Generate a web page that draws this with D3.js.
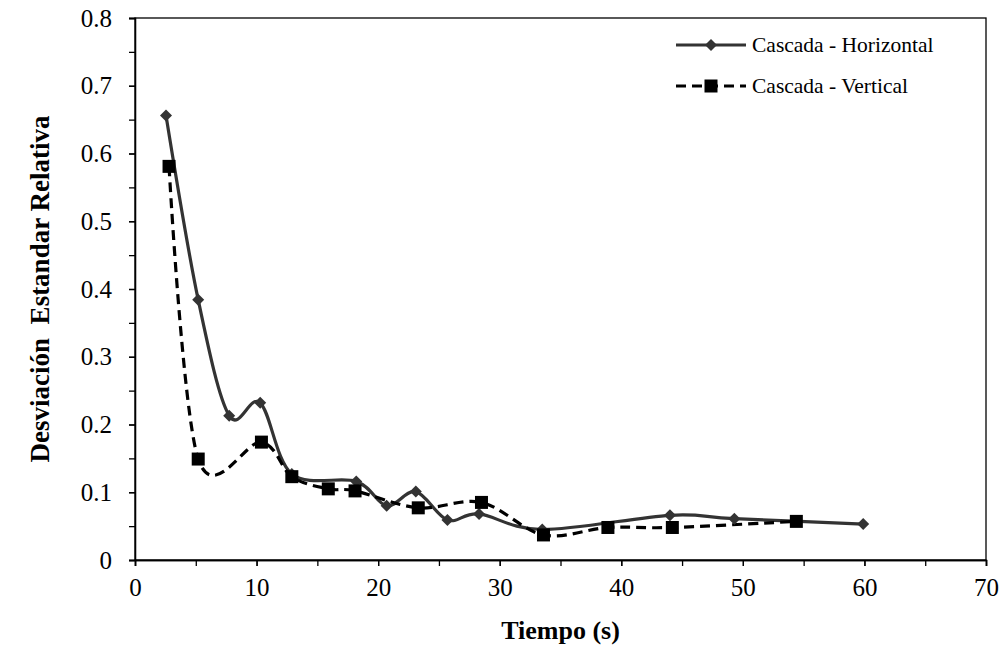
<!DOCTYPE html>
<html>
<head>
<meta charset="utf-8">
<script src="https://cdn.jsdelivr.net/npm/d3@7"></script>
<style>
  body { margin: 0; background: #fff; }
  svg text { font-family: "Liberation Serif", "Times New Roman", Times, serif; }
</style>
</head>
<body>
<div id="chart"></div>
<script>
// Chart constants
const WIDTH = 1002;
const HEIGHT = 645;
const MARGIN = { left: 135, top: 18, right: 16, bottom: 85 };
const FONT = '"Liberation Serif", "Times New Roman", Times, serif';

// Data
const horizTime = [2.55, 5.2, 7.75, 10.3, 12.9, 18.2, 20.7, 23.1, 25.7, 28.3, 33.5, 44.0, 49.3, 59.9];
const horizDev = [0.656, 0.384, 0.213, 0.232, 0.127, 0.116, 0.080, 0.101, 0.059, 0.068, 0.045, 0.066, 0.061, 0.053];
const vertTime = [2.8, 5.2, 10.4, 12.9, 15.9, 18.1, 23.3, 28.5, 33.6, 38.9, 44.2, 54.4];
const vertDev = [0.581, 0.149, 0.174, 0.123, 0.105, 0.102, 0.077, 0.085, 0.037, 0.048, 0.048, 0.057];
const seriesNames = ["Cascada - Horizontal", "Cascada - Vertical"];
const xTicks = [0, 10, 20, 30, 40, 50, 60, 70];
const yTicks = [0, 0.1, 0.2, 0.3, 0.4, 0.5, 0.6, 0.7, 0.8];

const svg = d3.select("#chart").append("svg")
  .attr("width", WIDTH)
  .attr("height", HEIGHT);

const plotW = WIDTH - MARGIN.left - MARGIN.right;
const plotH = HEIGHT - MARGIN.top - MARGIN.bottom;

const x = d3.scaleLinear().domain([0, 70]).range([MARGIN.left, MARGIN.left + plotW]);
const y = d3.scaleLinear().domain([0, 0.8]).range([MARGIN.top + plotH, MARGIN.top]);

// plot border
svg.append("rect")
  .attr("x", x(0)).attr("y", y(0.8))
  .attr("width", x(70) - x(0)).attr("height", y(0) - y(0.8))
  .attr("fill", "none").attr("stroke", "#000").attr("stroke-width", 1.3);

// minor ticks
const xAxisMinor = d3.axisBottom(x).tickValues(d3.range(0, 71, 5)).tickSize(6).tickFormat("");
const yAxisMinor = d3.axisLeft(y).tickValues(d3.range(0, 0.81, 0.05)).tickSize(6).tickFormat("");
svg.append("g").attr("transform", `translate(0,${y(0)})`).call(xAxisMinor);
svg.append("g").attr("transform", `translate(${x(0)},0)`).call(yAxisMinor);

// major axes with labels
const xAxis = d3.axisBottom(x).tickValues(xTicks).tickSize(6).tickPadding(12).tickFormat(d3.format("d"));
const yAxis = d3.axisLeft(y).tickValues(yTicks).tickSize(6).tickPadding(17)
  .tickFormat(d => d === 0 ? "0" : d3.format(".1f")(d));

svg.append("g").attr("class", "x-axis").attr("transform", `translate(0,${y(0)})`).call(xAxis);
svg.append("g").attr("class", "y-axis").attr("transform", `translate(${x(0)},0)`).call(yAxis);

svg.selectAll("g").attr("font-family", FONT);
svg.selectAll(".domain, .tick line").attr("stroke", "#000").attr("stroke-width", 1.3);
svg.selectAll(".tick text")
  .attr("font-size", 25)
  .attr("fill", "#000");

// axis titles
svg.append("text")
  .attr("x", (x(0) + x(70)) / 2).attr("y", 639)
  .attr("text-anchor", "middle")
  .attr("font-size", 26).attr("font-weight", "bold")
  .text("Tiempo (s)");

svg.append("text")
  .attr("transform", `translate(49,${(y(0) + y(0.8)) / 2}) rotate(-90)`)
  .attr("text-anchor", "middle")
  .attr("font-size", 27).attr("font-weight", "bold")
  .style("white-space", "pre")
  .text("Desviación  Estandar Relativa");

// lines
const line = d3.line()
  .x(d => x(d[0]))
  .y(d => y(d[1]))
  .curve(d3.curveCardinal.tension(0));

const horiz = horizTime.map((t, i) => [t, horizDev[i]]);
const vert = vertTime.map((t, i) => [t, vertDev[i]]);

svg.append("path").datum(horiz)
  .attr("d", line)
  .attr("fill", "none").attr("stroke", "#333").attr("stroke-width", 3.2);

svg.append("path").datum(vert)
  .attr("d", line)
  .attr("fill", "none").attr("stroke", "#000").attr("stroke-width", 3.2)
  .attr("stroke-dasharray", "10,6");

const diamond = d3.symbol().type(d3.symbolSquare).size(72);

svg.append("g").selectAll("path")
  .data(horiz)
  .join("path")
  .attr("d", diamond)
  .attr("transform", d => `translate(${x(d[0])},${y(d[1])}) rotate(45)`)
  .attr("fill", "#333");

svg.append("g").selectAll("rect")
  .data(vert)
  .join("rect")
  .attr("x", d => x(d[0]) - 6.5)
  .attr("y", d => y(d[1]) - 6.5)
  .attr("width", 13).attr("height", 13)
  .attr("fill", "#000");

// legend
const legend = svg.append("g");
const legendY = [45, 86];

legend.append("line")
  .attr("x1", 676).attr("x2", 746).attr("y1", legendY[0]).attr("y2", legendY[0])
  .attr("stroke", "#333").attr("stroke-width", 3.2);
legend.append("path")
  .attr("d", diamond)
  .attr("transform", `translate(711,${legendY[0]}) rotate(45)`)
  .attr("fill", "#333");

legend.append("line")
  .attr("x1", 676).attr("x2", 746).attr("y1", legendY[1]).attr("y2", legendY[1])
  .attr("stroke", "#000").attr("stroke-width", 3.2)
  .attr("stroke-dasharray", "10,6");
legend.append("rect")
  .attr("x", 704.5).attr("y", legendY[1] - 6.5)
  .attr("width", 13).attr("height", 13)
  .attr("fill", "#000");

legend.selectAll("text")
  .data(seriesNames)
  .join("text")
  .attr("x", 752)
  .attr("y", (d, i) => legendY[i] + 7)
  .attr("font-size", 21.5)
  .attr("fill", "#000")
  .text(d => d);
</script>
</body>
</html>
